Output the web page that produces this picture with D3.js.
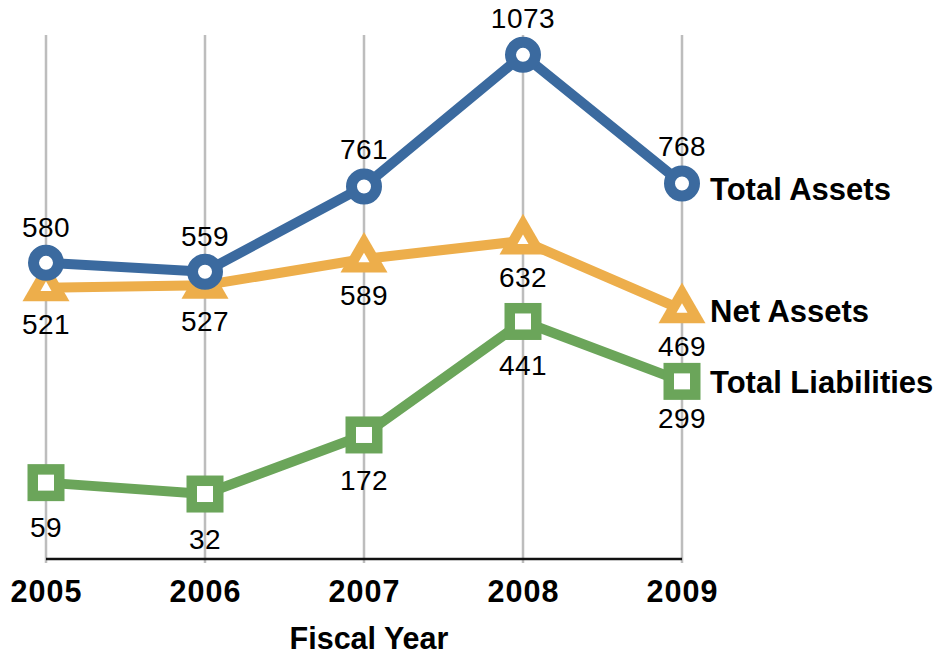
<!DOCTYPE html>
<html>
<head>
<meta charset="utf-8">
<script src="https://cdn.jsdelivr.net/npm/d3@7"></script>
<style>
  html, body { margin: 0; padding: 0; background: #fff; }
  svg { display: block; font-family: "Liberation Sans", Arial, Helvetica, sans-serif; }
</style>
</head>
<body>
<svg id="chart" width="942" height="658"></svg>
<script>
// ---- Data ----
const years = ["2005", "2006", "2007", "2008", "2009"];
const totalAssets = [580, 559, 761, 1073, 768];
const netAssets = [521, 527, 589, 632, 469];
const totalLiabilities = [59, 32, 172, 441, 299];
const seriesNames = ["Total Assets", "Net Assets", "Total Liabilities"];
const xAxisTitle = "Fiscal Year";

// ---- Layout / style ----
const colors = { "Total Assets": "#3b6a9f", "Net Assets": "#edae4b", "Total Liabilities": "#6ba55a" };
const svg = d3.select("#chart");

const x = d3.scalePoint().domain(years).range([46, 682]);
const y = d3.scaleLinear().domain([-122, 1120]).range([559, 35]);

const series = [
  { name: seriesNames[2], values: totalLiabilities, shape: "square", labelDy: [54, 55, 55, 54, 47], nameDy: 12 },
  { name: seriesNames[1], values: netAssets, shape: "triangle", labelDy: [46, 46, 46, 46, 46], nameDy: 12 },
  { name: seriesNames[0], values: totalAssets, shape: "circle", labelDy: [-26, -26, -27, -27, -28], nameDy: 16 }
];

// gridlines
svg.append("g").selectAll("line").data(years).join("line")
  .attr("x1", d => x(d)).attr("x2", d => x(d))
  .attr("y1", 35).attr("y2", 563)
  .attr("stroke", "#bdbdbd").attr("stroke-width", 2.5);

// x axis
const xAxis = d3.axisBottom(x).tickSize(0).tickPadding(22);
const gx = svg.append("g").attr("transform", `translate(0,${y(-122)})`).call(xAxis);
gx.select(".domain").attr("stroke", "#111").attr("stroke-width", 2.5)
  .attr("d", `M${x(years[0])},0H${x(years[years.length - 1])}`);
gx.selectAll(".tick text")
  .attr("font-family", "'Liberation Sans', Arial, sans-serif")
  .attr("font-size", 30.5).attr("font-weight", "bold").attr("fill", "#000")
  .attr("letter-spacing", 1)
  .attr("dy", 0).attr("y", 43);

svg.append("text")
  .attr("x", 369).attr("y", 649)
  .attr("text-anchor", "middle")
  .attr("font-size", 30.5).attr("font-weight", "bold")
  .text(xAxisTitle);

const line = d3.line().x((d, i) => x(years[i])).y(d => y(d));

series.forEach(s => {
  const c = colors[s.name];
  const g = svg.append("g");
  g.append("path").datum(s.values)
    .attr("d", line).attr("fill", "none")
    .attr("stroke", c).attr("stroke-width", 10).attr("stroke-linejoin", "round");

  const pts = g.selectAll("g.pt").data(s.values).join("g")
    .attr("transform", (d, i) => `translate(${x(years[i])},${y(d)})`);
  if (s.shape === "circle") {
    pts.append("circle").attr("r", 12.5).attr("fill", "#fff")
      .attr("stroke", c).attr("stroke-width", 11);
  } else if (s.shape === "square") {
    pts.append("rect").attr("x", -13.25).attr("y", -13.25)
      .attr("width", 26.5).attr("height", 26.5)
      .attr("fill", "#fff").attr("stroke", c).attr("stroke-width", 10.5);
  } else {
    const outer = Math.sqrt(3) / 4 * 47 * 47;
    const inner = Math.sqrt(3) / 4 * 11 * 11;
    pts.append("path").attr("d", d3.symbol(d3.symbolTriangle, outer)()).attr("fill", c);
    pts.append("path").attr("d", d3.symbol(d3.symbolTriangle, inner)()).attr("fill", "#fff");
  }

  g.selectAll("text.val").data(s.values).join("text")
    .attr("class", "val")
    .attr("x", (d, i) => x(years[i]))
    .attr("y", (d, i) => y(d) + s.labelDy[i])
    .attr("text-anchor", "middle")
    .attr("font-size", 28).attr("letter-spacing", 0.5).attr("fill", "#000")
    .text(d => d);

  const last = s.values[s.values.length - 1];
  g.append("text")
    .attr("x", 710).attr("y", y(last) + s.nameDy)
    .attr("font-size", 31).attr("font-weight", "bold").attr("fill", "#000")
    .text(s.name);
});
</script>
</body>
</html>
